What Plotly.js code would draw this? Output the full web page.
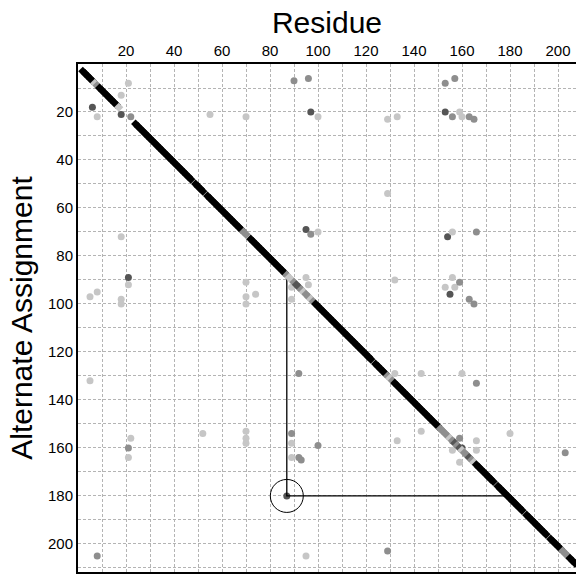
<!DOCTYPE html>
<html>
<head>
<meta charset="utf-8">
<script src="https://cdn.plot.ly/plotly-3.0.1.min.js"></script>
<style>html,body{margin:0;padding:0;background:#fff;}#chart{width:576px;height:580px;}</style>
</head>
<body>
<div id="chart"></div>
<script>
// Tick labels
const xTicks = [20, 40, 60, 80, 100, 120, 140, 160, 180, 200];
const yTicks = [20, 40, 60, 80, 100, 120, 140, 160, 180, 200];

// Diagonal (assigned residue -> its own assignment); shade: 4 black, 3 dark, 2 gray, 1 light
const diagResidue = [
  2,3,4,5,6,7,8,9,10,11,12,13,14,15,16,17,
  24,25,26,27,28,29,30,31,32,33,34,35,36,37,38,39,40,41,42,43,44,45,46,47,
  49,50,51,52,
  54,55,56,57,58,59,60,61,62,63,64,65,66,67,68,69,70,
  72,73,74,75,76,77,78,79,80,81,82,83,84,85,86,
  87,88,89,90,91,92,93,94,95,96,97,98,
  99,100,101,102,103,104,105,106,107,108,109,110,111,112,113,114,115,116,117,118,119,120,121,122,
  124,125,126,127,128,129,130,131,
  132,133,134,135,136,137,138,139,140,141,142,143,144,145,146,147,148,149,150,
  151,152,153,154,155,156,157,158,159,160,161,162,163,164,165,
  166,167,168,169,170,171,172,173,
  175,176,177,178,179,180,181,182,183,184,185,
  187,188,189,190,191,192,193,194,195,
  197,198,199,200,201,202,203,204,205,206,207
];
const diagAlt = [
  3,4,5,6,7,8,9,10,11,12,13,14,15,16,17,18,
  25,26,27,28,29,30,31,32,33,34,35,36,37,38,39,40,41,42,43,44,45,46,47,48,
  50,51,52,53,
  55,56,57,58,59,60,61,62,63,64,65,66,67,68,69,70,71,
  73,74,75,76,77,78,79,80,81,82,83,84,85,86,87,
  88,89,90,91,92,93,94,95,96,97,98,99,
  100,101,102,103,104,105,106,107,108,109,110,111,112,113,114,115,116,117,118,119,120,121,122,123,
  125,126,127,128,129,130,131,132,
  133,134,135,136,137,138,139,140,141,142,143,144,145,146,147,148,149,150,151,
  152,153,154,155,156,157,158,159,160,161,162,163,164,165,166,
  167,168,169,170,171,172,173,174,
  176,177,178,179,180,181,182,183,184,185,186,
  188,189,190,191,192,193,194,195,196,
  198,199,200,201,202,203,204,205,206,207,208
];
const diagShade = [
  4,4,4,4,4,1,2,4,4,4,4,4,4,4,4,1,
  4,4,4,4,4,4,4,4,4,4,4,4,4,4,4,4,4,4,4,4,4,4,4,4,
  4,4,4,4,
  4,4,4,4,4,4,4,4,4,4,4,4,4,4,4,2,2,
  4,4,4,4,4,4,4,4,4,4,4,4,4,4,4,
  2,1,1,2,3,3,2,1,2,2,1,2,
  4,4,4,4,4,4,4,4,4,4,4,4,4,4,4,4,4,4,4,4,4,4,4,4,
  4,4,4,4,4,2,1,2,
  4,4,4,4,4,4,4,4,4,4,4,4,4,4,4,4,4,4,4,
  2,2,2,2,1,2,3,2,3,1,2,2,3,2,1,
  4,4,4,4,4,4,4,4,
  4,4,4,4,4,4,4,4,4,4,4,
  4,4,4,4,4,4,4,4,4,
  4,4,4,4,4,2,2,2,4,4,4
];

// Alternate (off-diagonal) assignments
const altResidue = [6,8,18,22,21,18,55,70,90,96,97,100,129,133,153,157,153,156,159,160,163,165,
  18,21,21,5,8,18,18,70,70,70,74,95,97,100,129,154,156,166,132,89,89,95,96,
  153,155,156,157,159,163,165,5,22,21,21,52,70,70,70,92,89,89,89,92,93,87,8,95,
  132,143,160,166,100,133,143,156,159,160,156,159,166,166,180,203,129];
const altAssign = [18,22,21,22,8,13,21,22,7,6,20,22,23,22,8,6,20,22,20,22,22,23,
  72,89,92,97,95,98,100,91,97,100,96,69,71,70,54,72,70,70,90,93,98,89,92,
  93,96,89,93,91,98,100,132,156,160,164,154,153,156,158,129,154,158,164,164,165,180,205,205,
  129,129,129,133,159,157,153,157,156,160,161,166,157,161,154,162,203];
const altShade = [3,1,3,2,1,1,1,1,2,2,3,1,1,1,2,2,3,2,1,1,2,2,
  1,3,1,1,1,1,1,1,1,1,1,3,2,1,1,3,1,2,1,1,1,1,1,
  1,3,1,1,2,2,2,1,1,2,1,1,1,1,1,2,2,1,1,2,2,3,2,1,
  1,1,1,2,2,1,1,2,2,3,1,1,1,1,1,2,2];

// Highlighted assignment: residue 87 assigned to 180
const hlResidue = [87, 87, 179];
const hlAssign = [88, 180, 180];
const hlCircleResidue = [87];
const hlCircleAssign = [180];

const shadeColors = {1: '#c6c6c6', 2: '#8e8e8e', 3: '#555555', 4: '#000000'};

const traces = [
  {
    type: 'scatter', mode: 'markers', x: altResidue, y: altAssign,
    marker: {size: 7, color: altShade.map(s => shadeColors[s]), line: {width: 0}},
    hoverinfo: 'x+y'
  },
  {
    type: 'scatter', mode: 'lines', x: hlResidue, y: hlAssign,
    line: {color: '#000000', width: 1.3}, hoverinfo: 'skip'
  },
  {
    type: 'scatter', mode: 'markers', x: diagResidue, y: diagAlt,
    marker: {size: 7, symbol: 'diamond', color: diagShade.map(s => shadeColors[s]), line: {width: 0}},
    hoverinfo: 'x+y'
  },
  {
    type: 'scatter', mode: 'markers', x: hlCircleResidue, y: hlCircleAssign,
    marker: {size: 33, symbol: 'circle-open', color: '#000000', line: {width: 1, color: '#000000'}},
    hoverinfo: 'skip'
  }
];

const gridColor = '#b4b4b4';
const layout = {
  width: 576, height: 580,
  margin: {l: 78, r: 0, t: 64, b: 8},
  paper_bgcolor: '#ffffff', plot_bgcolor: '#ffffff',
  showlegend: false,
  font: {family: 'Liberation Sans, Arial, sans-serif', color: '#000000'},
  xaxis: {
    side: 'top', range: [0, 207.5], tickmode: 'array', tickvals: xTicks,
    ticks: '', tickfont: {size: 15}, ticklabelstandoff: 0,
    showline: true, linecolor: '#000000', linewidth: 2, mirror: true,
    showgrid: true, gridcolor: gridColor, griddash: '3px,2px', gridwidth: 1,
    minor: {dtick: 10, tick0: 0, showgrid: true, gridcolor: gridColor, griddash: '3px,2px', gridwidth: 1},
    zeroline: false,
    title: {text: 'Residue', font: {size: 30}, standoff: 0}
  },
  yaxis: {
    range: [211.7, 0], tickmode: 'array', tickvals: yTicks,
    ticks: '', tickfont: {size: 15}, ticklabelstandoff: 0,
    showline: true, linecolor: '#000000', linewidth: 2, mirror: false,
    showgrid: true, gridcolor: gridColor, griddash: '3px,2px', gridwidth: 1,
    minor: {dtick: 10, tick0: 0, showgrid: true, gridcolor: gridColor, griddash: '3px,2px', gridwidth: 1},
    zeroline: false,
    title: {text: 'Alternate Assignment', font: {size: 30}, standoff: 6}
  }
};

Plotly.newPlot('chart', traces, layout, {displayModeBar: false, staticPlot: true});
</script>
</body>
</html>
